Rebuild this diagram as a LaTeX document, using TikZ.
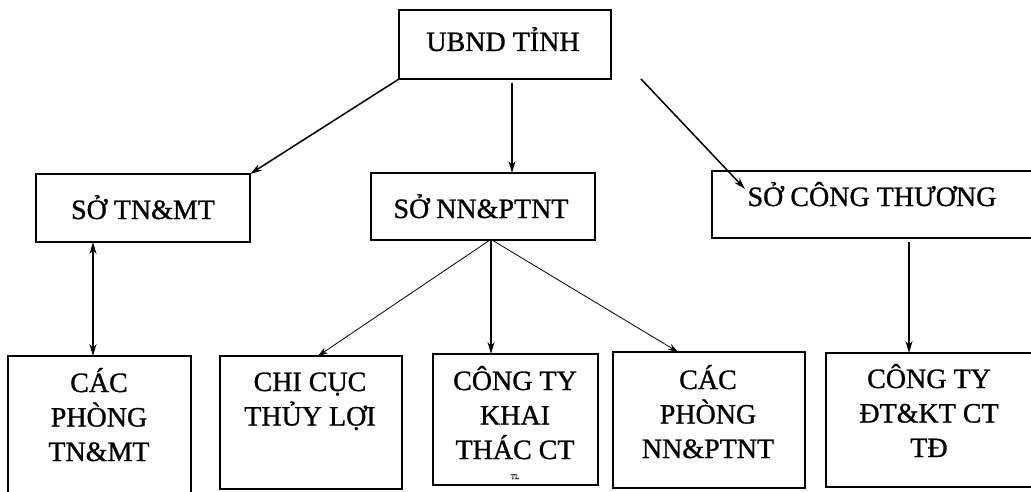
\documentclass[tikz,border=0pt]{standalone}
\usepackage{fontspec}
\setmainfont{Liberation Serif}[FakeBold=1]
\usetikzlibrary{arrows.meta,calc}
\tikzset{
  boxnode/.style={draw=black, line width=1.2pt, rectangle, inner sep=0pt, outer sep=0pt, anchor=north west},
  lbl/.style={inner sep=0pt, outer sep=0pt, anchor=base, font=\fontsize{28}{34.5}\selectfont},
  conn/.style={draw=black, line width=1.5pt, -{Stealth[length=12pt,width=7pt]}},
  thinconn/.style={draw=black, line width=0.8pt, -{Stealth[length=10pt,width=6.5pt]}},
  dconn/.style={draw=black, line width=1.5pt, {Stealth[length=12pt,width=7pt]}-{Stealth[length=12pt,width=7pt]}}
}
\newcommand{\mybox}[5]{\node[boxnode, minimum width=#4pt-#2pt, minimum height=#5pt-#3pt] (#1) at (#2,#3) {};}
\newcommand{\stk}[1]{\begin{tabular}[t]{@{}c@{}}#1\end{tabular}}
\begin{document}
\begin{tikzpicture}[x=1pt,y=-1pt]
\useasboundingbox (0,0) rectangle (1031,492);
\fill[white] (0,0) rectangle (1031,492);
% boxes
\mybox{ubnd}{399}{10}{611}{79}
\mybox{tnmt}{36}{174}{250}{242}
\mybox{nn}{371}{173}{595}{240}
\mybox{ct}{712}{171}{1040}{238}
\mybox{bA}{8}{356}{191}{505}
\mybox{bB}{220}{356}{402}{489}
\mybox{bC}{433}{354}{598}{485}
\mybox{bD}{613}{352}{805}{488}
\mybox{bE}{826}{353}{1040}{487}
% labels
\node[lbl] (tubnd) at (503,51) {UBND TỈNH};
\node[lbl] (ttnmt) at (143,219) {SỞ TN\&MT};
\node[lbl] (tnn) at (481,218) {SỞ NN\&PTNT};
\node[lbl] (tct) at (872,206) {SỞ CÔNG THƯƠNG};
\node[lbl] (tA) at (99,392) {\stk{CÁC\\PHÒNG\\TN\&MT}};
\node[lbl] (tB) at (310,391) {\stk{CHI CỤC\\THỦY LỢI}};
\node[lbl] (tC) at (515,390) {\stk{CÔNG TY\\KHAI\\THÁC CT}};
\node[inner sep=0pt, anchor=base, font=\fontsize{7}{8}\selectfont] (tC2) at (515,479) {TL};
\node[lbl] (tD) at (708,389) {\stk{CÁC\\PHÒNG\\NN\&PTNT}};
\node[lbl] (tE) at (929,388) {\stk{CÔNG TY\\ĐT\&KT CT\\TĐ}};
% connector endpoints
\coordinate (u2) at (512,83);
\coordinate (u3) at (641,79);
\coordinate (c3) at (745,189);
\coordinate (a1) at (93,242);
\coordinate (a2) at (93,356);
\coordinate (n1) at (490,240);
\coordinate (n2) at (318,356);
\coordinate (n3) at (491,240);
\coordinate (n4) at (492,240);
\coordinate (n5) at (678,352);
\coordinate (k1) at (909,242);
% connectors
\draw[conn] (ubnd.south west) -- (tnmt.north east);
\draw[conn] (u2) -- (u2 |- nn.north);
\draw[conn] (u3) -- (c3);
\draw[dconn] (a1) -- (a2);
\draw[thinconn] (n1) -- (n2);
\draw[conn] (n3) -- (n3 |- bC.north);
\draw[thinconn] (n4) -- (n5);
\draw[conn] (k1) -- (k1 |- bE.north);
\end{tikzpicture}
\end{document}
